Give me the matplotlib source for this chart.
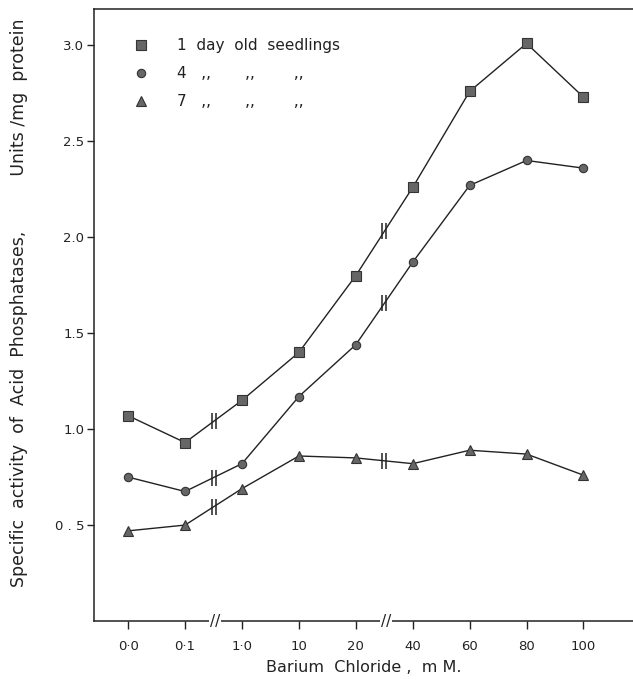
import numpy as np
import matplotlib
matplotlib.use("Agg")
import matplotlib.pyplot as plt

# Barium chloride concentrations (mM), plotted as evenly spaced categories
conc_labels = ["0·0", "0·1", "1·0", "10", "20", "40", "60", "80", "100"]

day1 = [1.07, 0.93, 1.15, 1.40, 1.80, 2.26, 2.76, 3.01, 2.73]
day4 = [0.75, 0.675, 0.82, 1.17, 1.44, 1.87, 2.27, 2.40, 2.36]
day7 = [0.47, 0.50, 0.69, 0.86, 0.85, 0.82, 0.89, 0.87, 0.76]

yticks = [0.5, 1.0, 1.5, 2.0, 2.5, 3.0]
ytick_labels = ["0 . 5", "1.0", "1.5", "2.0", "2.5", "3.0"]

# segments where the concentration axis is broken (between these category indices)
breaks = [(1, 2), (4, 5)]

plt.rcParams.update({"font.family": ["DejaVu Sans"], "font.size": 10})
fig = plt.figure(figsize=(6.33, 6.82), dpi=100)
ax = fig.add_axes([0.1485, 0.0894, 0.8515, 0.8976])

x = np.arange(len(conc_labels))
ink = "#222222"
fill = "#666666"

series = [
    (day1, "s", 7, "1  day  old  seedlings"),
    (day4, "o", 6, "4   ,,       ,,        ,,"),
    (day7, "^", 7, "7   ,,       ,,        ,,"),
]
for vals, mk, ms, lab in series:
    ax.plot(x, vals, color=ink, lw=1.0, marker=mk, ms=ms,
            markerfacecolor=fill, markeredgecolor="#333333", markeredgewidth=0.8,
            label=lab)
    # break marks "||" on the connecting line
    for i, j in breaks:
        xm = (x[i] + x[j]) / 2
        ym = (vals[i] + vals[j]) / 2
        ax.plot([xm - 0.035, xm + 0.035], [ym, ym], ls="none",
                marker="|", ms=11, mew=1.1, color=ink)

# breaks on the x axis
for i, j in breaks:
    ax.text((x[i] + x[j]) / 2 + 0.03, 0, "//", ha="center", va="center",
            fontsize=11, color=ink, clip_on=False,
            bbox=dict(facecolor="white", edgecolor="none", pad=0.5))

ax.set_xlim(-0.6, 8.87)
ax.set_ylim(0, 3.19)
ax.set_xticks(x)
ax.set_xticklabels(conc_labels)
ax.set_yticks(yticks)
ax.set_yticklabels(ytick_labels)
ax.tick_params(direction="out", length=6, width=1, colors=ink, labelsize=9.5)
ax.tick_params(axis="x", pad=8)
ax.tick_params(axis="y", length=5, pad=2)

ax.spines["right"].set_visible(False)
for s in ["left", "bottom", "top"]:
    ax.spines[s].set_color(ink)
    ax.spines[s].set_linewidth(1.1)

ax.set_xlabel("Barium  Chloride ,  m M.", fontsize=11.5, color=ink, labelpad=5)
ax.set_ylabel("Specific  activity  of  Acid  Phosphatases,          Units /mg  protein",
              fontsize=12.5, color=ink, labelpad=6)
ax.yaxis.set_label_coords(-0.122, 0.52)

ax.legend(loc="upper left", bbox_to_anchor=(0.05, 0.975), frameon=False,
          handlelength=0.8, handletextpad=2.0, labelspacing=0.85, fontsize=11,
          markerscale=1.0, labelcolor=ink)
for h in ax.get_legend().legend_handles:
    h.set_linestyle("none")

fig.savefig("out.png", dpi=100)
